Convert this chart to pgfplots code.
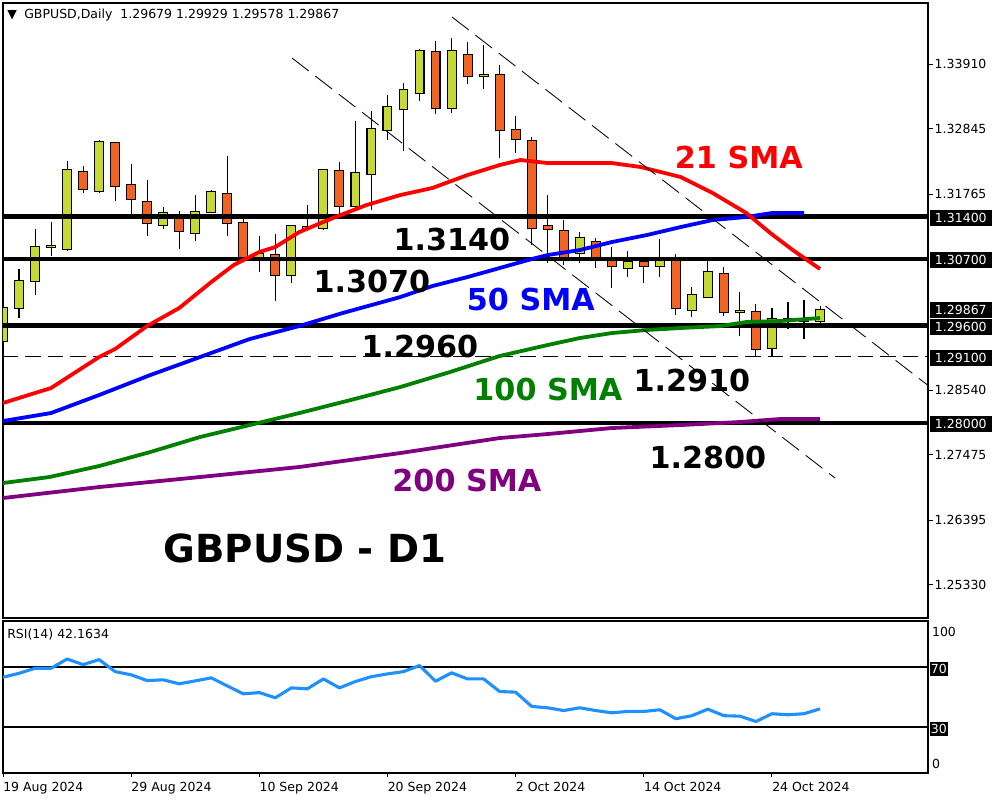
\documentclass[border=0pt]{standalone}
\usepackage{pgfplots}
\pgfplotsset{compat=1.18}
\usepackage{pgfplotstable}
\usepackage{fontspec}
\setmainfont{DejaVu Sans}

\definecolor{bullc}{RGB}{198,216,52}
\definecolor{bearc}{RGB}{241,99,35}
\definecolor{rsic}{RGB}{30,144,255}
\definecolor{smared}{RGB}{255,0,0}
\definecolor{smablue}{RGB}{0,0,255}
\definecolor{smagreen}{RGB}{0,128,0}
\definecolor{smapurple}{RGB}{128,0,128}

\newcommand\tickfont{\fontsize{8.9pt}{10pt}\selectfont}
\newcommand\bigf{\fontsize{21.5pt}{24pt}\selectfont\bfseries}

\pgfplotsset{candle/.style={draw=none, mark=none, error bars/.cd, y dir=plus, y explicit,
  error mark=none, error bar style={draw=#1, solid}}}

% daily candles, index 0 = 19 Aug 2024
\pgfplotstableread{
i o h l c
0 1.29348 1.29974 1.29315 1.29891
1 1.29890 1.30534 1.29727 1.30336
2 1.30336 1.31192 1.30105 1.30896
3 1.30900 1.31308 1.30748 1.30920
4 1.30863 1.32312 1.30830 1.32164
6 1.31818 1.32658 1.31785 1.32625
10 1.31258 1.31555 1.31192 1.31456
12 1.31126 1.31752 1.30995 1.31472
13 1.31472 1.31835 1.31456 1.31802
16 1.30731 1.31077 1.30484 1.30781
18 1.30435 1.31258 1.30303 1.31242
19 1.31210 1.31590 1.31190 1.31220
20 1.31209 1.32180 1.31176 1.32164
22 1.31571 1.32971 1.31538 1.32115
23 1.32098 1.33136 1.31505 1.32839
24 1.32823 1.33399 1.32658 1.33202
25 1.33169 1.33597 1.32477 1.33482
26 1.33432 1.34157 1.33301 1.34124
28 1.33185 1.34338 1.33103 1.34124
30 1.33720 1.34223 1.33498 1.33730
36 1.30797 1.31143 1.30632 1.31044
39 1.30550 1.30830 1.30402 1.30649
41 1.30583 1.31028 1.30402 1.30665
43 1.29858 1.30237 1.29743 1.30105
44 1.30072 1.30665 1.30050 1.30484
46 1.29830 1.30155 1.29430 1.29840
48 1.29232 1.29891 1.29100 1.29710
50 1.29670 1.30023 1.29381 1.29690
51 1.29679 1.29929 1.29578 1.29867
}\bull

\pgfplotstableread{
i o h l c
5 1.32131 1.32230 1.31785 1.31851
7 1.32609 1.32625 1.31654 1.31901
8 1.31917 1.32263 1.31423 1.31686
9 1.31637 1.31999 1.31077 1.31291
11 1.31374 1.31489 1.30863 1.31159
14 1.31769 1.32395 1.31077 1.31291
15 1.31291 1.31374 1.30698 1.30715
17 1.30764 1.31110 1.30007 1.30435
21 1.32148 1.32296 1.31423 1.31571
27 1.34108 1.34289 1.33086 1.33185
29 1.34058 1.34272 1.33581 1.33712
31 1.33729 1.33893 1.32362 1.32823
32 1.32823 1.33054 1.32444 1.32675
33 1.32642 1.32708 1.30929 1.31209
34 1.31242 1.31752 1.30632 1.31192
35 1.31159 1.31341 1.30599 1.30731
37 1.30978 1.31044 1.30550 1.30731
38 1.30665 1.30896 1.30221 1.30583
40 1.30649 1.30715 1.30303 1.30583
42 1.30665 1.30781 1.29776 1.29891
45 1.30451 1.30567 1.29759 1.29825
47 1.29825 1.29957 1.29100 1.29216
49 1.29710 1.29990 1.29545 1.29690
}\bear

\pgfplotstableread{
i r
0 63.0
1 65.6
2 68.9
3 68.9
4 75.0
5 71.3
6 74.6
7 66.7
8 64.6
9 60.8
10 61.3
11 58.7
12 60.6
13 62.6
14 57.3
15 52.1
16 52.9
17 49.5
18 56.0
19 55.4
20 61.9
21 56.0
22 60.2
23 63.4
24 65.2
25 66.7
26 70.7
27 60.4
28 65.9
29 61.9
30 61.9
31 53.6
32 53.2
33 43.8
34 42.9
35 41.1
36 42.9
37 41.1
38 39.6
39 40.5
40 40.5
41 41.6
42 35.7
43 37.7
44 42.0
45 37.7
46 37.4
47 33.9
48 39.0
49 38.3
50 39.0
51 42.2
}\rsi

\begin{document}
\begin{tikzpicture}
\path[use as bounding box, fill=white] (0,0) rectangle (25cm,-20cm);

\begin{axis}[
  at={(0.075cm,-0.075cm)}, anchor=north west, scale only axis,
  width=23.125cm, height=15.375cm,
  xmin=0, xmax=57.74, ymin=1.24786, ymax=1.34915,
  clip mode=individual,
  axis line style={line width=0.8pt},
  xtick=\empty,
  ytick={1.25330,1.26395,1.27475,1.28540,1.31765,1.32845,1.33910},
  yticklabels={1.25330,1.26395,1.27475,1.28540,1.31765,1.32845,1.33910},
  ytick pos=right, yticklabel pos=right, tick align=outside,
  major tick length=0.125cm, tick style={black, line width=0.7pt},
  yticklabel style={font=\tickfont, anchor=west, inner xsep=1pt}]

% wicks
\addplot[candle=black, error bar style={line width=0.75pt}]
  table[x=i, y=l, y error plus expr=\thisrow{h}-\thisrow{l}] {\bull};
\addplot[candle=black, error bar style={line width=0.75pt}]
  table[x=i, y=l, y error plus expr=\thisrow{h}-\thisrow{l}] {\bear};
% bodies: black outline, then fill
\addplot[candle=black, error bar style={line width=7.1pt}]
  table[x=i, y expr=\thisrow{o}-0.00016, y error plus expr=\thisrow{c}-\thisrow{o}+0.00032] {\bull};
\addplot[candle=bullc, error bar style={line width=5.6pt}]
  table[x=i, y=o, y error plus expr=\thisrow{c}-\thisrow{o}] {\bull};
\addplot[candle=black, error bar style={line width=7.1pt}]
  table[x=i, y expr=\thisrow{c}-0.00016, y error plus expr=\thisrow{o}-\thisrow{c}+0.00032] {\bear};
\addplot[candle=bearc, error bar style={line width=5.6pt}]
  table[x=i, y=c, y error plus expr=\thisrow{o}-\thisrow{c}] {\bear};

% levels
\addplot[black, line width=3.3pt] coordinates {(0,1.3140) (57.74,1.3140)};
\addplot[black, line width=3.3pt] coordinates {(0,1.3070) (57.74,1.3070)};
\addplot[black, line width=3.3pt] coordinates {(0,1.2960) (57.74,1.2960)};
\addplot[black, line width=3.3pt] coordinates {(0,1.2800) (57.74,1.2800)};
\addplot[black, line width=0.7pt, dash pattern=on 11pt off 5pt] coordinates {(0,1.2910) (57.74,1.2910)};

% moving averages
\addplot[smapurple, line width=2.7pt, line join=round] coordinates {
 (0,1.26762) (6,1.26943) (12.3,1.27108) (18.5,1.27273) (24.8,1.27503) (31,1.27750)
 (34,1.27816) (38,1.27915) (42.3,1.27964) (46,1.28014) (48.5,1.28063) (51,1.28063)};
\addplot[smagreen, line width=2.7pt, line join=round] coordinates {
 (0,1.27009) (2.9,1.27108) (6,1.27289) (9.2,1.27520) (12.3,1.27767) (15.4,1.27964)
 (18.5,1.28162) (21.7,1.28376) (24.8,1.28590) (27.9,1.28837) (31,1.29101) (34,1.29282)
 (36,1.29397) (38,1.29479) (40.2,1.29530) (42.3,1.29562) (44.8,1.29595) (46.4,1.29661)
 (48.5,1.29677) (51,1.29727)};
\addplot[smablue, line width=2.7pt, line join=round] coordinates {
 (0,1.28030) (3,1.28162) (6,1.28458) (9.2,1.28788) (12.3,1.29084) (15.4,1.29381)
 (18.5,1.29595) (21.2,1.29809) (24.8,1.30072) (26.8,1.30253) (29,1.30402) (31,1.30550)
 (33,1.30698) (34,1.30764) (36,1.30846) (38,1.30978) (40.2,1.31094) (42.3,1.31225)
 (44.3,1.31341) (46.4,1.31391) (48,1.31456) (50,1.31456)};
\addplot[smared, line width=2.7pt, line join=round] coordinates {
 (0,1.28327) (3,1.28574) (6,1.29084) (7,1.29216) (9,1.29595) (11,1.29891) (13,1.30319)
 (14.4,1.30599) (16,1.30814) (17,1.30896) (18.5,1.31143) (20.6,1.31374) (22.7,1.31588)
 (24.8,1.31752) (26.8,1.31868) (29,1.32082) (31,1.32246) (32.3,1.32329) (34,1.32279)
 (38,1.32279) (39.8,1.32214) (42.3,1.32049) (44.3,1.31785) (46.4,1.31456) (47.9,1.31126)
 (49.3,1.30846) (51,1.30534)};

% channel
\addplot[black, line width=0.6pt, dash pattern=on 15pt off 6pt] coordinates {(28.03,1.34684) (57.74,1.28617)};
\addplot[black, line width=0.6pt, dash pattern=on 15pt off 6pt] coordinates {(18.04,1.34009) (51.94,1.27091)};
\end{axis}

\begin{axis}[
  at={(0.075cm,-15.525cm)}, anchor=north west, scale only axis,
  width=23.125cm, height=3.8cm,
  xmin=0, xmax=57.74, ymin=0, ymax=100,
  clip mode=individual,
  axis line style={line width=0.8pt},
  ytick=\empty,
  xtick={0,8,16,24,32,40,48},
  xticklabels={19 Aug 2024,29 Aug 2024,10 Sep 2024,20 Sep 2024,2 Oct 2024,14 Oct 2024,24 Oct 2024},
  xtick pos=left, tick align=outside,
  major tick length=0.1cm, tick style={black, line width=0.7pt},
  xticklabel style={font=\tickfont, anchor=north west, inner xsep=0pt}]
\addplot[black, line width=1.4pt] coordinates {(0,70) (57.74,70)};
\addplot[black, line width=1.4pt] coordinates {(0,30) (57.74,30)};
\addplot[rsic, line width=2.2pt, line join=round] table[x=i, y=r] {\rsi};
\end{axis}

\begin{scope}[x=0.025cm, y=-0.025cm]
\node[anchor=base west, inner sep=0pt, font=\tickfont] at (7,19) {▼};
\node[anchor=base west, inner sep=0pt, font=\tickfont] at (24,19) {GBPUSD,Daily\ \ 1.29679 1.29929 1.29578 1.29867};
\node[anchor=base west, inner sep=0pt, font=\tickfont] at (7,639) {RSI(14) 42.1634};

\node[smared, font=\bigf] at (739,158) {21 SMA};
\node[font=\bigf] at (452,240) {1.3140};
\node[font=\bigf] at (372,282) {1.3070};
\node[smablue, font=\bigf] at (531,300) {50 SMA};
\node[font=\bigf] at (420,347) {1.2960};
\node[smagreen, font=\bigf] at (548,390) {100 SMA};
\node[font=\bigf] at (692,381) {1.2910};
\node[font=\bigf] at (708,458) {1.2800};
\node[smapurple, font=\bigf] at (467,481) {200 SMA};
\node[font=\fontsize{27.5pt}{30pt}\selectfont\bfseries] at (305,549) {GBPUSD - D1};

\tikzset{pbox/.style={anchor=west, fill=black, text=white, font=\tickfont, inner xsep=3.5pt, inner ysep=0pt, minimum height=0.4cm}}
\node[pbox] at (930,218) {1.31400};
\node[pbox] at (930,260) {1.30700};
\node[pbox] at (930,310) {1.29867};
\node[pbox] at (930,327) {1.29600};
\node[pbox] at (930,358) {1.29100};
\node[pbox] at (930,424) {1.28000};

\node[anchor=west, inner sep=0pt, font=\tickfont] at (932,632) {100};
\node[anchor=west, inner sep=0pt, font=\tickfont] at (932,764) {0};
\node[anchor=west, fill=black, text=white, font=\tickfont, inner xsep=0.6pt, inner ysep=0pt, minimum height=0.35cm] at (930,669) {70};
\node[anchor=west, fill=black, text=white, font=\tickfont, inner xsep=0.6pt, inner ysep=0pt, minimum height=0.35cm] at (930,729) {30};
\end{scope}
\end{tikzpicture}
\end{document}
